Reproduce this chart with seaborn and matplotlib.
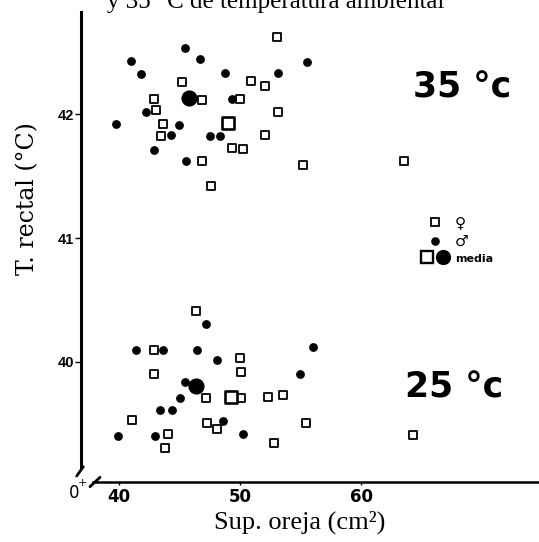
import matplotlib
matplotlib.use("Agg")
import matplotlib.pyplot as plt
from matplotlib.lines import Line2D
from matplotlib.legend_handler import HandlerTuple
import seaborn as sns
import pandas as pd

# ---- data ----
# 35 °C, females (open squares)
f35_x = [53.03, 45.23, 50.91, 52.07, 42.89, 46.83, 50.00, 43.03, 53.17, 43.66,
         43.50, 52.07, 49.34, 50.22, 46.88, 55.23, 47.58, 63.55]
f35_y = [42.62, 42.26, 42.27, 42.23, 42.12, 42.11, 42.12, 42.03, 42.02, 41.92,
         41.82, 41.83, 41.73, 41.72, 41.62, 41.59, 41.42, 41.62]
# 35 °C, males (filled circles)
m35_x = [45.45, 40.97, 46.69, 55.51, 41.79, 48.76, 53.17, 49.31, 42.23, 39.73,
         44.96, 44.30, 47.52, 48.35, 42.92, 45.54]
m35_y = [42.53, 42.43, 42.44, 42.42, 42.32, 42.33, 42.33, 42.12, 42.02, 41.92,
         41.91, 41.83, 41.82, 41.82, 41.71, 41.62]
# 25 °C, females
f25_x = [46.36, 42.92, 50.00, 50.06, 42.92, 47.19, 50.06, 52.34, 53.55, 41.10,
         47.30, 48.12, 55.45, 44.02, 43.78, 52.79, 64.32]
f25_y = [40.41, 40.10, 40.03, 39.92, 39.90, 39.71, 39.71, 39.72, 39.73, 39.53,
         39.51, 39.46, 39.51, 39.42, 39.31, 39.35, 39.41]
# 25 °C, males
m25_x = [47.19, 41.40, 43.61, 46.47, 56.01, 48.12, 54.96, 45.45, 45.04, 43.39,
         44.38, 48.57, 39.94, 42.98, 50.27]
m25_y = [40.31, 40.10, 40.10, 40.10, 40.12, 40.02, 39.90, 39.84, 39.71, 39.61,
         39.61, 39.52, 39.40, 39.40, 39.42]
# means (media)
mean_f_x = [49.03, 49.23]
mean_f_y = [41.93, 39.72]
mean_m_x = [45.79, 46.34]
mean_m_y = [42.13, 39.81]

x_ticks = [40, 50, 60]
y_ticks = [40, 41, 42]
y_ticklabels = ["40", "41", "42"]

title = "y 35° C de temperatura ambiental"
x_label = "Sup. oreja (cm²)"
y_label = "T. rectal (°C)"

# ---- figure ----
sns.set_style("white")
plt.rcParams.update({
    "text.color": "black",
    "axes.labelcolor": "black",
    "xtick.color": "black",
    "ytick.color": "black",
    "axes.edgecolor": "black",
})
W, H = 539, 542
fig = plt.figure(figsize=(W / 100, H / 100), dpi=100)

def fx(px):
    return px / W

def fy(py):
    return 1 - py / H

ax_l, ax_r, ax_t, ax_b = 81, 539, 12, 482
ax = fig.add_axes([fx(ax_l), fy(ax_b), (ax_r - ax_l) / W, (ax_b - ax_t) / H])

sq_kw = dict(marker="s", facecolor="white", edgecolor="black", linewidth=1.3, s=26, zorder=3)
ci_kw = dict(marker="o", color="black", edgecolor="black", linewidth=0, s=40, zorder=3)

sns.scatterplot(x=f35_x, y=f35_y, ax=ax, legend=False, **sq_kw)
sns.scatterplot(x=f25_x, y=f25_y, ax=ax, legend=False, **sq_kw)
sns.scatterplot(x=m35_x, y=m35_y, ax=ax, legend=False, **ci_kw)
sns.scatterplot(x=m25_x, y=m25_y, ax=ax, legend=False, **ci_kw)
sns.scatterplot(x=mean_f_x, y=mean_f_y, ax=ax, legend=False, marker="s",
                facecolor="white", edgecolor="black", linewidth=1.9, s=85, zorder=4)
sns.scatterplot(x=mean_m_x, y=mean_m_y, ax=ax, legend=False, marker="o",
                color="black", linewidth=0, s=135, zorder=4)

ax.set_xlim(36.86, 74.71)
ax.set_ylim(39.032, 42.823)

for s in ("top", "right"):
    ax.spines[s].set_visible(False)
ax.spines["left"].set_linewidth(2.2)
ax.spines["left"].set_color("black")
ax.spines["left"].set_bounds(39.153, 42.823)
ax.spines["bottom"].set_linewidth(1.8)
ax.spines["bottom"].set_color("black")
ax.spines["bottom"].set_bounds(37.85, 74.71)

ax.set_xticks(x_ticks)
ax.set_yticks(y_ticks)
ax.set_yticklabels(y_ticklabels)
ax.tick_params(axis="y", left=True, length=4, width=1, pad=1, colors="black")
ax.tick_params(axis="x", bottom=True, length=2, width=1, pad=2, colors="black")
for t in ax.get_yticklabels():
    t.set_fontfamily("Liberation Sans")
    t.set_fontweight("bold")
    t.set_fontsize(10.5)
for t in ax.get_xticklabels():
    t.set_fontfamily("DejaVu Sans")
    t.set_fontweight("bold")
    t.set_fontsize(12)

ax.set_xlabel(x_label, fontfamily="Liberation Serif", fontsize=19, color="black")
ax.xaxis.set_label_coords((300 - ax_l) / (ax_r - ax_l), (ax_b - 522) / (ax_b - ax_t))
ax.xaxis.label.set_va("center")
ax.set_ylabel(y_label, fontfamily="DejaVu Serif", fontsize=17, color="black")
ax.yaxis.set_label_coords((28 - ax_l) / (ax_r - ax_l), (ax_b - 199) / (ax_b - ax_t))
ax.yaxis.label.set_va("center")

def axf(px, py):
    return ((px - ax_l) / (ax_r - ax_l), (ax_b - py) / (ax_b - ax_t))

ax.text(*axf(413, 88), "35 °c", transform=ax.transAxes, fontfamily="DejaVu Sans",
        fontweight="bold", fontsize=25, ha="left", va="center", color="black")
ax.text(*axf(405, 387), "25 °c", transform=ax.transAxes, fontfamily="DejaVu Sans",
        fontweight="bold", fontsize=25, ha="left", va="center", color="black")

# legend
h_f = Line2D([], [], ls="", marker="s", mfc="white", mec="black", ms=5.2, mew=1.3)
h_m = Line2D([], [], ls="", marker="o", mfc="black", mec="black", ms=6.2, mew=0)
h_mf = Line2D([], [], ls="", marker="s", mfc="white", mec="black", ms=8.5, mew=1.7)
h_mm = Line2D([], [], ls="", marker="o", mfc="black", mec="black", ms=11, mew=0)
leg = ax.legend([h_f, h_m, (h_mf, h_mm)], ["♀", "♂", "media"],
                handler_map={tuple: HandlerTuple(ndivide=None, pad=0.1)},
                loc="upper left", bbox_to_anchor=axf(420, 215), frameon=False,
                borderpad=0, borderaxespad=0, handlelength=2.2, handletextpad=0.3,
                labelspacing=0.25)
for t, sz in zip(leg.get_texts(), [11, 11, 8]):
    t.set_fontsize(sz)
    t.set_fontweight("bold")
    t.set_fontfamily("DejaVu Sans")
    t.set_color("black")

# title (cropped at top like in the scan)
fig.text(fx(107), fy(8), title, fontfamily="Liberation Serif", fontsize=18,
         ha="left", va="baseline", color="black")

# axis break marks and origin label
fig.add_artist(Line2D([fx(76.7), fx(83.3)], [fy(476), fy(466.7)], color="black", lw=2))
fig.add_artist(Line2D([fx(90), fx(100)], [fy(486.7), fy(477.3)], color="black", lw=2))
fig.text(fx(74), fy(493), "0", fontfamily="DejaVu Sans", fontsize=12,
         ha="center", va="center", color="black")
fig.text(fx(82), fy(483), "+", fontfamily="DejaVu Sans", fontsize=8,
         ha="center", va="center", color="black")

fig.savefig("out.png", dpi=100)
